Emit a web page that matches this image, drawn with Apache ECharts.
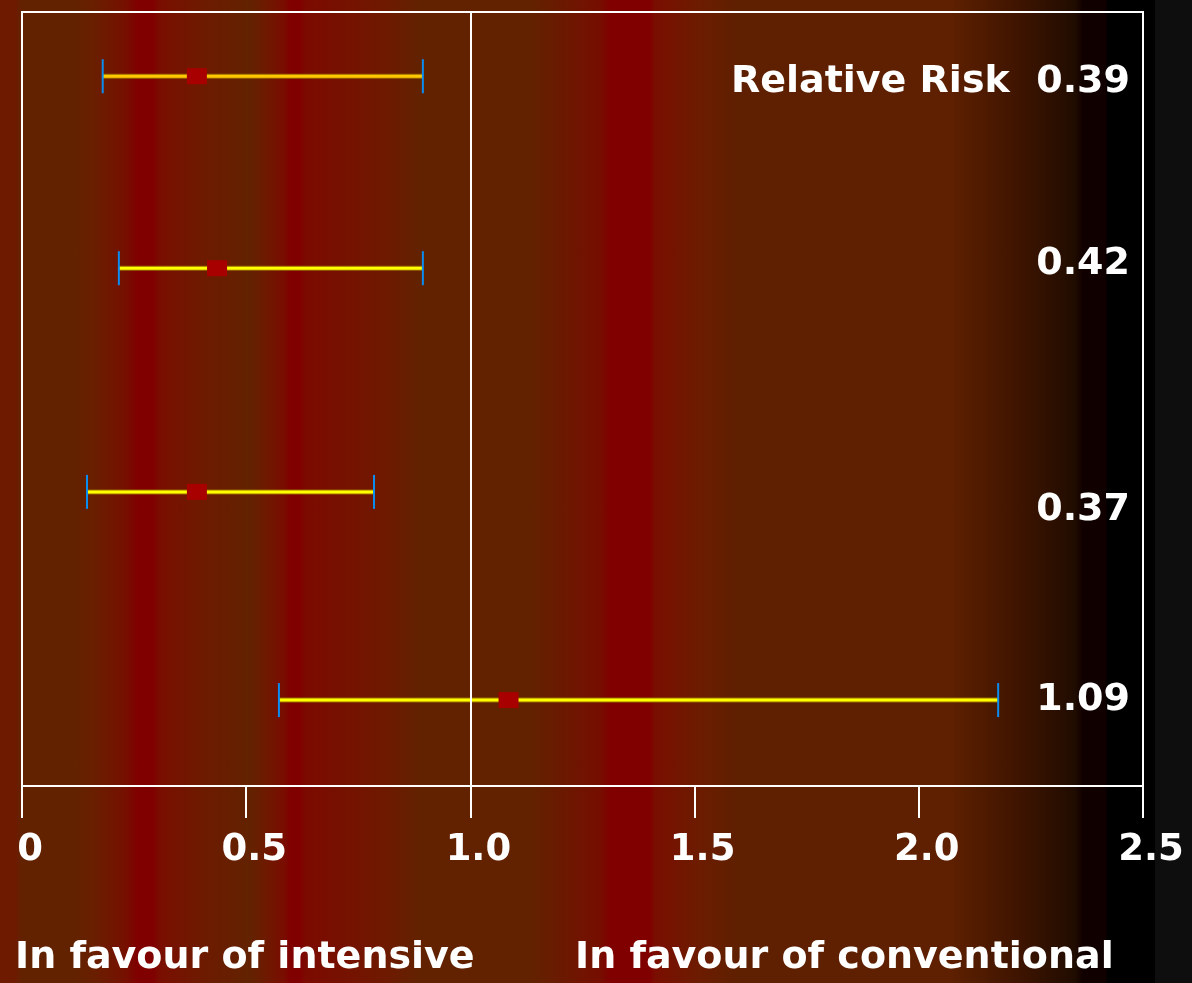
<!DOCTYPE html>
<html>
<head>
<meta charset="utf-8">
<script src="https://cdn.jsdelivr.net/npm/echarts@6/dist/echarts.min.js"></script>
<style>
  html, body { margin: 0; padding: 0; }
  body {
    width: 1192px; height: 983px; overflow: hidden;
    background: linear-gradient(to right,
      #6e1a00 0px, #6e1a00 15px, #622200 22px, #622200 75px, #6a1e00 95px,
      #761000 125px, #800000 138px, #800000 153px, #7a0e00 160px, #6e1a00 200px,
      #622200 250px, #6c1c00 262px, #7a0c00 285px, #800000 290px, #800000 300px,
      #7c0a00 305px, #701800 380px, #622200 420px, #622200 530px, #760e00 600px,
      #800000 610px, #800000 650px, #7a0e00 655px, #6c1c00 700px, #5e2000 740px,
      #5e2000 950px, #3e1400 1020px, #200c00 1075px, #100000 1083px, #100000 1105px,
      #000000 1108px, #000000 1155px, #0e0e0e 1155px, #0e0e0e 1192px);
  }
  #main { width: 1192px; height: 983px; }
</style>
</head>
<body>
<div id="main"></div>
<script>
// 每一行的位置(隐藏的纵轴)
var rows = [0.83, 3.31, 6.2, 8.89];
// 置信区间下限
var lower = [0.18, 0.216, 0.145, 0.573];
// 置信区间上限
var upper = [0.894, 0.894, 0.785, 2.177];
// 点估计
var pointEst = [0.39, 0.435, 0.39, 1.085];
// 右侧文字
var rrLabel = ['Relative Risk  0.39', '0.42', '0.37', '1.09'];
// 横轴刻度
var xTicks = [0, 0.5, 1.0, 1.5, 2.0, 2.5];
var xTickText = ['0', '0.5', '1.0', '1.5', '2.0', '2.5'];

// 样式
var fontFam = 'DejaVu Sans';
var lineColors = ['#ffc800', '#ffff00', '#ffff00', '#ffff00'];
var labelShift = [6, -4, 18, 0];

var data = [];
for (var i = 0; i < rows.length; i++) {
  data.push([rows[i], lower[i], upper[i], pointEst[i], i]);
}

var myChart = echarts.init(document.getElementById('main'));
var option = {
  backgroundColor: 'transparent',
  animation: false,
  textStyle: { fontFamily: fontFam },
  grid: {
    left: 22, right: 49, top: 12, bottom: 197,
    show: true,
    borderColor: '#ffffff',
    borderWidth: 2,
    backgroundColor: 'transparent'
  },
  xAxis: {
    type: 'value',
    position: 'bottom',
    min: 0,
    max: 2.5,
    interval: 0.5,
    splitLine: { show: false },
    axisLine: { show: true, onZero: false, lineStyle: { color: '#ffffff', width: 2 } },
    axisTick: { show: true, length: 32, lineStyle: { color: '#ffffff', width: 2 } },
    axisLabel: {
      color: '#ffffff',
      fontSize: 37,
      fontWeight: 'bold',
      fontFamily: fontFam,
      margin: 46,
      padding: [0, 0, 0, 16],
      formatter: function (v) {
        var k = xTicks.indexOf(v);
        return k >= 0 ? xTickText[k] : '';
      }
    }
  },
  yAxis: {
    type: 'value',
    min: 0,
    max: 10,
    inverse: true,
    show: false,
    splitLine: { show: false }
  },
  series: [
    {
      type: 'custom',
      data: data,
      encode: { x: [1, 2, 3], y: 0 },
      renderItem: function (params, api) {
        var y = api.value(0);
        var idx = api.value(4);
        var pLo = api.coord([api.value(1), y]);
        var pHi = api.coord([api.value(2), y]);
        var pMid = api.coord([api.value(3), y]);
        var pRight = api.coord([2.5, y]);
        var half = 17;
        return {
          type: 'group',
          children: [
            // 外边线
            {
              type: 'line',
              shape: { x1: pLo[0], y1: pLo[1], x2: pHi[0], y2: pHi[1] },
              style: { stroke: '#9a6a00', lineWidth: 5 }
            },
            {
              type: 'line',
              shape: { x1: pLo[0], y1: pLo[1], x2: pHi[0], y2: pHi[1] },
              style: { stroke: lineColors[idx], lineWidth: 3 }
            },
            // 两端竖线
            {
              type: 'line',
              shape: { x1: pLo[0], y1: pLo[1] - half, x2: pLo[0], y2: pLo[1] + half },
              style: { stroke: '#0a8cf0', lineWidth: 2 }
            },
            {
              type: 'line',
              shape: { x1: pHi[0], y1: pHi[1] - half, x2: pHi[0], y2: pHi[1] + half },
              style: { stroke: '#0a8cf0', lineWidth: 2 }
            },
            // 点估计方块
            {
              type: 'rect',
              shape: { x: pMid[0] - 10, y: pMid[1] - 8, width: 20, height: 16 },
              style: { fill: '#a80000' }
            },
            // 右侧数值
            {
              type: 'text',
              x: pRight[0] - 13,
              y: pRight[1] + labelShift[idx],
              style: {
                text: rrLabel[idx],
                fill: '#ffffff',
                font: 'bold 38px "' + fontFam + '"',
                align: 'right',
                verticalAlign: 'middle'
              }
            }
          ]
        };
      },
      markLine: {
        silent: true,
        symbol: ['none', 'none'],
        label: { show: false },
        lineStyle: { color: '#ffffff', width: 2, type: 'solid' },
        data: [{ xAxis: 1.0 }]
      },
      z: 3
    }
  ],
  graphic: [
    {
      type: 'text',
      left: 15,
      top: 939,
      style: {
        text: 'In favour of intensive',
        fill: '#ffffff',
        font: 'bold 38px "' + fontFam + '"'
      }
    },
    {
      type: 'text',
      left: 575,
      top: 939,
      style: {
        text: 'In favour of conventional',
        fill: '#ffffff',
        font: 'bold 38px "' + fontFam + '"'
      }
    }
  ]
};
myChart.setOption(option);
</script>
</body>
</html>
